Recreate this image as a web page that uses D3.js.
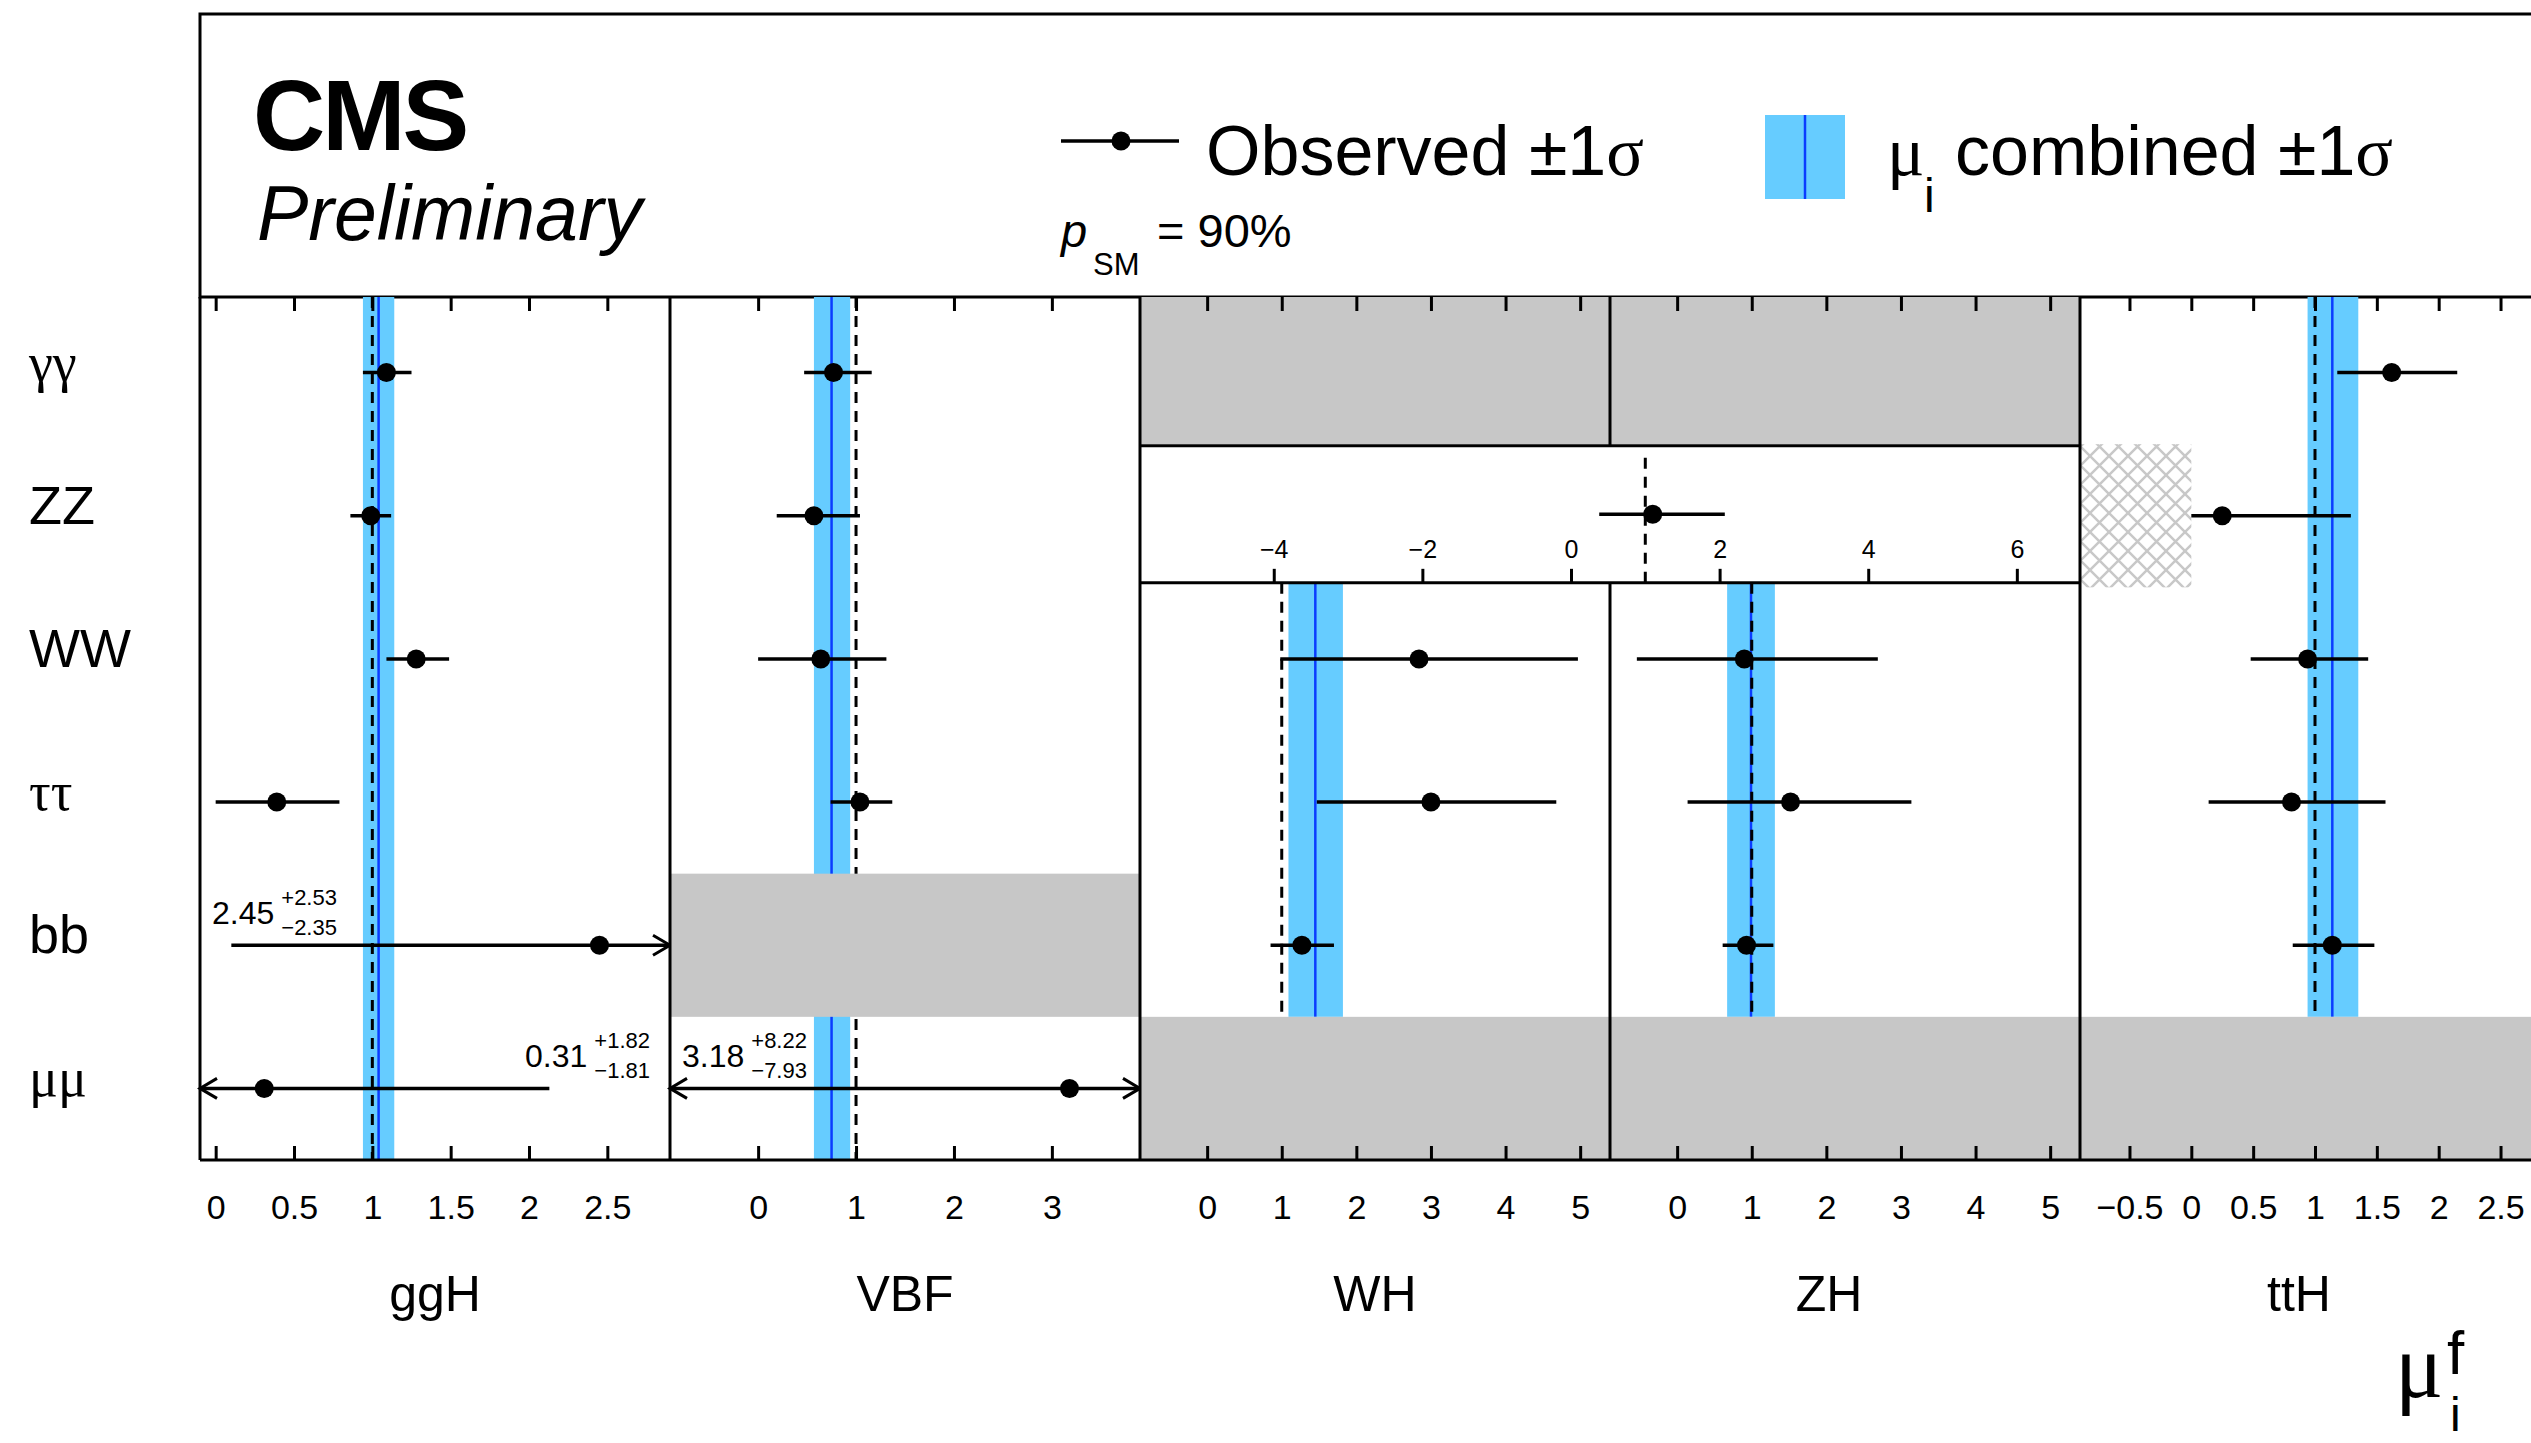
<!DOCTYPE html>
<html>
<head>
<meta charset="utf-8">
<script src="https://cdn.jsdelivr.net/npm/d3@7"></script>
<style>
  body { margin: 0; overflow: hidden; background: #fff; }
  svg { display: block; font-family: "Liberation Sans", Arial, Helvetica, sans-serif; }
  .greek { font-family: "Liberation Serif", "DejaVu Serif", serif; }
</style>
</head>
<body>
<svg width="2531" height="1443"></svg>
<script>
// decay channels (rows) and production modes (panels)
const decays = ["γγ", "ZZ", "WW", "ττ", "bb", "μμ"];
const greekRows = ["γγ", "ττ", "μμ"];
const prods = ["ggH", "VBF", "WH", "ZH", "ttH"];

// x axis ranges and ticks of each panel
const ranges = [[-0.1, 2.9], [-0.9, 3.9], [-0.9, 5.4], [-0.9, 5.4], [-0.9, 2.9]];
const ticksGGH = [0, 0.5, 1, 1.5, 2, 2.5];
const ticksVBF = [0, 1, 2, 3];
const ticksVH = [0, 1, 2, 3, 4, 5];
const ticksTTH = [-0.5, 0, 0.5, 1, 1.5, 2, 2.5];

// WH and ZH share one VH measurement in the ZZ row
const rangeVHZZ = [-5.8, 6.85];
const ticksVHZZ = [-4, -2, 0, 2, 4, 6];
const obsVHZZ = [1.10, 0.97, 0.72];

// observed mu [value, +err, -err], null = not measured
const obsGGH = [[1.09, 0.16, 0.15], [0.99, 0.13, 0.13], [1.28, 0.21, 0.19], [0.39, 0.40, 0.39], [2.45, 2.53, 2.35], [0.31, 1.82, 1.81]];
const obsVBF = [[0.77, 0.39, 0.30], [0.57, 0.47, 0.38], [0.64, 0.67, 0.64], [1.04, 0.33, 0.30], null, [3.18, 8.22, 7.93]];
const obsWH = [null, null, [2.84, 2.13, 1.86], [3.00, 1.68, 1.53], [1.27, 0.43, 0.42], null];
const obsZH = [null, null, [0.90, 1.79, 1.44], [1.52, 1.62, 1.38], [0.93, 0.36, 0.32], null];
const obsTTH = [[1.62, 0.53, 0.44], [0.25, 1.04, 0.25], [0.94, 0.49, 0.46], [0.81, 0.76, 0.67], [1.14, 0.34, 0.32], null];

// combined mu_i per production mode
const muComb = [[1.04, 0.10, 0.10], [0.75, 0.19, 0.18], [1.45, 0.37, 0.36], [0.99, 0.32, 0.32], [1.14, 0.21, 0.20]];

const svg = d3.select("svg"),
  width = +svg.attr("width"),
  height = +svg.attr("height");

const sans = "'Liberation Sans', Arial, Helvetica, sans-serif",
  bandFill = "#66ccff",
  blue = "#0a3cff",
  grey = "#c7c7c7";

const frameLeft = 200, panelW = 470, frameTop = 297, frameBottom = 1160, tickLen = 14;
const dotR = 9.5;

const y = d3.scaleBand().domain(decays).range([301, frameBottom]);
const xs = prods.map(function(p, i) {
  return d3.scaleLinear().domain(ranges[i]).range([frameLeft + i * panelW, frameLeft + (i + 1) * panelW]);
});
const obs = [obsGGH, obsVBF, obsWH, obsZH, obsTTH];
const tickSets = [ticksGGH, ticksVBF, ticksVH, ticksVH, ticksTTH];

const zzTop = y("ZZ") + 1.5,
  zzBot = y("ZZ") + y.bandwidth() - 4.5;
const xVH = d3.scaleLinear().domain(rangeVHZZ).range([xs[2].range()[0], xs[3].range()[1]]);

const fmt = function(d) { return String(d).replace("-", "\u2212"); };

// hatch pattern for the excluded region
const defs = svg.append("defs");
defs.append("pattern")
  .attr("id", "hatch")
  .attr("width", 19).attr("height", 19)
  .attr("patternUnits", "userSpaceOnUse")
  .append("path")
  .attr("d", "M0,0L19,19M19,0L0,19")
  .attr("stroke", "#c8c8c8")
  .attr("stroke-width", 2.5);

// header box
svg.append("rect")
  .attr("x", frameLeft).attr("y", 14)
  .attr("width", width).attr("height", frameTop - 14)
  .attr("fill", "none").attr("stroke", "#000").attr("stroke-width", 3);

svg.append("text").attr("x", 253).attr("y", 150)
  .attr("font-size", 100).attr("font-weight", "bold").attr("letter-spacing", -3)
  .text("CMS");
svg.append("text").attr("x", 257).attr("y", 240)
  .attr("font-size", 77).attr("font-style", "italic")
  .text("Preliminary");

// legend: observed
svg.append("line").attr("x1", 1061).attr("x2", 1179).attr("y1", 141).attr("y2", 141)
  .attr("stroke", "#000").attr("stroke-width", 3.5);
svg.append("circle").attr("cx", 1121).attr("cy", 141).attr("r", dotR);
const t1 = svg.append("text").attr("x", 1206).attr("y", 175).attr("font-size", 70);
t1.append("tspan").text("Observed \u00b11");
t1.append("tspan").attr("class", "greek").text("σ");

svg.append("text").attr("x", 1061).attr("y", 247).attr("font-size", 47).attr("font-style", "italic").text("p");
svg.append("text").attr("x", 1093).attr("y", 275).attr("font-size", 31).text("SM");
svg.append("text").attr("x", 1157).attr("y", 247).attr("font-size", 47).text("= 90%");

// legend: combined
svg.append("rect").attr("x", 1765).attr("y", 115).attr("width", 80).attr("height", 84).attr("fill", bandFill);
svg.append("line").attr("x1", 1805).attr("x2", 1805).attr("y1", 115).attr("y2", 199)
  .attr("stroke", blue).attr("stroke-width", 2.5);
svg.append("text").attr("class", "greek").attr("x", 1887).attr("y", 175).attr("font-size", 70).text("μ");
svg.append("text").attr("x", 1924).attr("y", 212).attr("font-size", 48).text("i");
const t2 = svg.append("text").attr("x", 1955).attr("y", 175).attr("font-size", 70);
t2.append("tspan").text("combined \u00b11");
t2.append("tspan").attr("class", "greek").text("σ");

// value label for bars running off the panel
function valueLabel(xa, yb, alignRight, d) {
  const g = svg.append("g");
  const main = g.append("text").attr("font-size", 32).text(d[0].toFixed(2));
  const sup = g.append("text").attr("font-size", 22).text("+" + d[1].toFixed(2));
  const sub = g.append("text").attr("font-size", 22).text("\u2212" + d[2].toFixed(2));
  const wm = main.node().getComputedTextLength();
  const ws = Math.max(sup.node().getComputedTextLength(), sub.node().getComputedTextLength());
  const gap = 7;
  const xm = alignRight ? xa - ws - gap - wm : xa;
  main.attr("x", xm).attr("y", yb);
  sup.attr("x", xm + wm + gap).attr("y", yb - 19);
  sub.attr("x", xm + wm + gap).attr("y", yb + 10.5);
}

function arrow(xt, yc, dir) {
  svg.append("path")
    .attr("d", "M" + (xt - dir * 17) + "," + (yc - 10) + "L" + xt + "," + yc + "L" + (xt - dir * 17) + "," + (yc + 10))
    .attr("fill", "none").attr("stroke", "#000").attr("stroke-width", 3);
}

function errorPoint(x, d, yc) {
  const dom = x.domain();
  const lo = d[0] - d[2], hi = d[0] + d[1];
  svg.append("line")
    .attr("x1", x(Math.max(lo, dom[0]))).attr("x2", x(Math.min(hi, dom[1])))
    .attr("y1", yc).attr("y2", yc)
    .attr("stroke", "#000").attr("stroke-width", 3.5);
  if (lo < dom[0]) arrow(x(dom[0]), yc, -1);
  if (hi > dom[1]) arrow(x(dom[1]), yc, 1);
  svg.append("circle").attr("cx", x(d[0])).attr("cy", yc).attr("r", dotR);
  return lo < dom[0] || hi > dom[1];
}

prods.forEach(function(p, i) {
  const x = xs[i], rows = obs[i], c = muComb[i];
  const filled = rows.map(function(r, k) { return r ? k : -1; }).filter(function(k) { return k >= 0; });
  const first = d3.min(filled), last = d3.max(filled);
  const yTop = first === 0 ? frameTop : zzBot;
  const yBot = y(decays[last]) + y.bandwidth();

  // combined band, its central value and the SM line
  svg.append("rect")
    .attr("x", x(c[0] - c[2])).attr("width", x(c[0] + c[1]) - x(c[0] - c[2]))
    .attr("y", yTop).attr("height", yBot - yTop)
    .attr("fill", bandFill);
  svg.append("line")
    .attr("x1", x(c[0])).attr("x2", x(c[0])).attr("y1", yTop).attr("y2", yBot)
    .attr("stroke", blue).attr("stroke-width", 2.5);
  svg.append("line")
    .attr("x1", x(1)).attr("x2", x(1)).attr("y1", yTop).attr("y2", yBot)
    .attr("stroke", "#000").attr("stroke-width", 3).attr("stroke-dasharray", "11,8");

  // channels not measured
  rows.forEach(function(r, k) {
    if (r) return;
    if (decays[k] === "ZZ" && (p === "WH" || p === "ZH")) return;
    const y0 = k === 0 ? frameTop : y(decays[k]);
    svg.append("rect")
      .attr("x", x.range()[0]).attr("width", panelW)
      .attr("y", y0).attr("height", y(decays[k]) + y.bandwidth() - y0)
      .attr("fill", grey);
  });

  // mu < 0 excluded for ttH, H->ZZ
  if (p === "ttH") {
    svg.append("rect")
      .attr("x", x.range()[0]).attr("width", x(0) - x.range()[0])
      .attr("y", y("ZZ")).attr("height", y.bandwidth())
      .attr("fill", "url(#hatch)");
  }

  rows.forEach(function(r, k) {
    if (!r) return;
    const yc = y(decays[k]) + y.bandwidth() / 2;
    if (errorPoint(x, r, yc)) {
      const onRight = x(r[0]) > (x.range()[0] + x.range()[1]) / 2;
      if (onRight) valueLabel(x.range()[0] + 12, yc - 21, false, r);
      else valueLabel(x.range()[1] - 20, yc - 21, true, r);
    }
  });
});

// VH -> ZZ box spanning WH and ZH
svg.append("rect")
  .attr("x", xVH.range()[0]).attr("width", xVH.range()[1] - xVH.range()[0])
  .attr("y", zzTop).attr("height", zzBot - zzTop)
  .attr("fill", "#fff");
svg.append("line")
  .attr("x1", xVH(1)).attr("x2", xVH(1)).attr("y1", zzTop + 12).attr("y2", zzBot)
  .attr("stroke", "#000").attr("stroke-width", 3).attr("stroke-dasharray", "11,8");
errorPoint(xVH, obsVHZZ, (zzTop + zzBot) / 2);
[zzTop, zzBot].forEach(function(yy) {
  svg.append("line")
    .attr("x1", xVH.range()[0]).attr("x2", xVH.range()[1]).attr("y1", yy).attr("y2", yy)
    .attr("stroke", "#000").attr("stroke-width", 3);
});

function styleAxis(g, fs) {
  g.select(".domain").remove();
  g.attr("font-family", sans).attr("font-size", fs);
  g.selectAll(".tick line").attr("stroke-width", 3);
}

svg.append("g")
  .attr("transform", "translate(0," + zzBot + ")")
  .call(d3.axisTop(xVH).tickValues(ticksVHZZ).tickFormat(fmt)
    .tickSizeInner(tickLen).tickSizeOuter(0).tickPadding(11))
  .call(styleAxis, 25);

// panel frames
const xRight = xs[4].range()[1];
svg.append("line").attr("x1", frameLeft).attr("x2", xRight).attr("y1", frameBottom).attr("y2", frameBottom)
  .attr("stroke", "#000").attr("stroke-width", 3);
d3.range(prods.length + 1).forEach(function(i) {
  const xx = frameLeft + i * panelW;
  const segs = i === 3 ? [[frameTop, zzTop], [zzBot, frameBottom]] : [[frameTop, frameBottom]];
  segs.forEach(function(s) {
    svg.append("line").attr("x1", xx).attr("x2", xx).attr("y1", s[0]).attr("y2", s[1])
      .attr("stroke", "#000").attr("stroke-width", 3);
  });
});

// axes and panel titles
prods.forEach(function(p, i) {
  svg.append("g")
    .attr("transform", "translate(0," + frameBottom + ")")
    .call(d3.axisBottom(xs[i]).tickValues(tickSets[i]).tickFormat(fmt)
      .tickSizeInner(-tickLen).tickSizeOuter(0).tickPadding(35))
    .call(styleAxis, 34);
  svg.append("g")
    .attr("transform", "translate(0," + frameTop + ")")
    .call(d3.axisTop(xs[i]).tickValues(tickSets[i]).tickFormat(function() { return ""; })
      .tickSizeInner(-tickLen).tickSizeOuter(0))
    .call(styleAxis, 34);
  svg.append("text")
    .attr("x", (xs[i].range()[0] + xs[i].range()[1]) / 2 - (i > 2 ? 16 : 0)).attr("y", 1311)
    .attr("text-anchor", "middle").attr("font-size", 50)
    .text(p);
});

// decay labels
svg.selectAll("text.row")
  .data(decays)
  .enter().append("text")
  .attr("class", function(d) { return greekRows.includes(d) ? "row greek" : "row"; })
  .attr("x", 29)
  .attr("y", function(d) { return y(d) + y.bandwidth() / 2 + 8; })
  .attr("font-size", 54)
  .text(function(d) { return d; });

// axis title mu_i^f
svg.append("text").attr("class", "greek").attr("x", 2395).attr("y", 1397).attr("font-size", 90).text("μ");
svg.append("text").attr("x", 2447).attr("y", 1374).attr("font-size", 62).text("f");
svg.append("text").attr("x", 2450).attr("y", 1431).attr("font-size", 48).text("i");
</script>
</body>
</html>
